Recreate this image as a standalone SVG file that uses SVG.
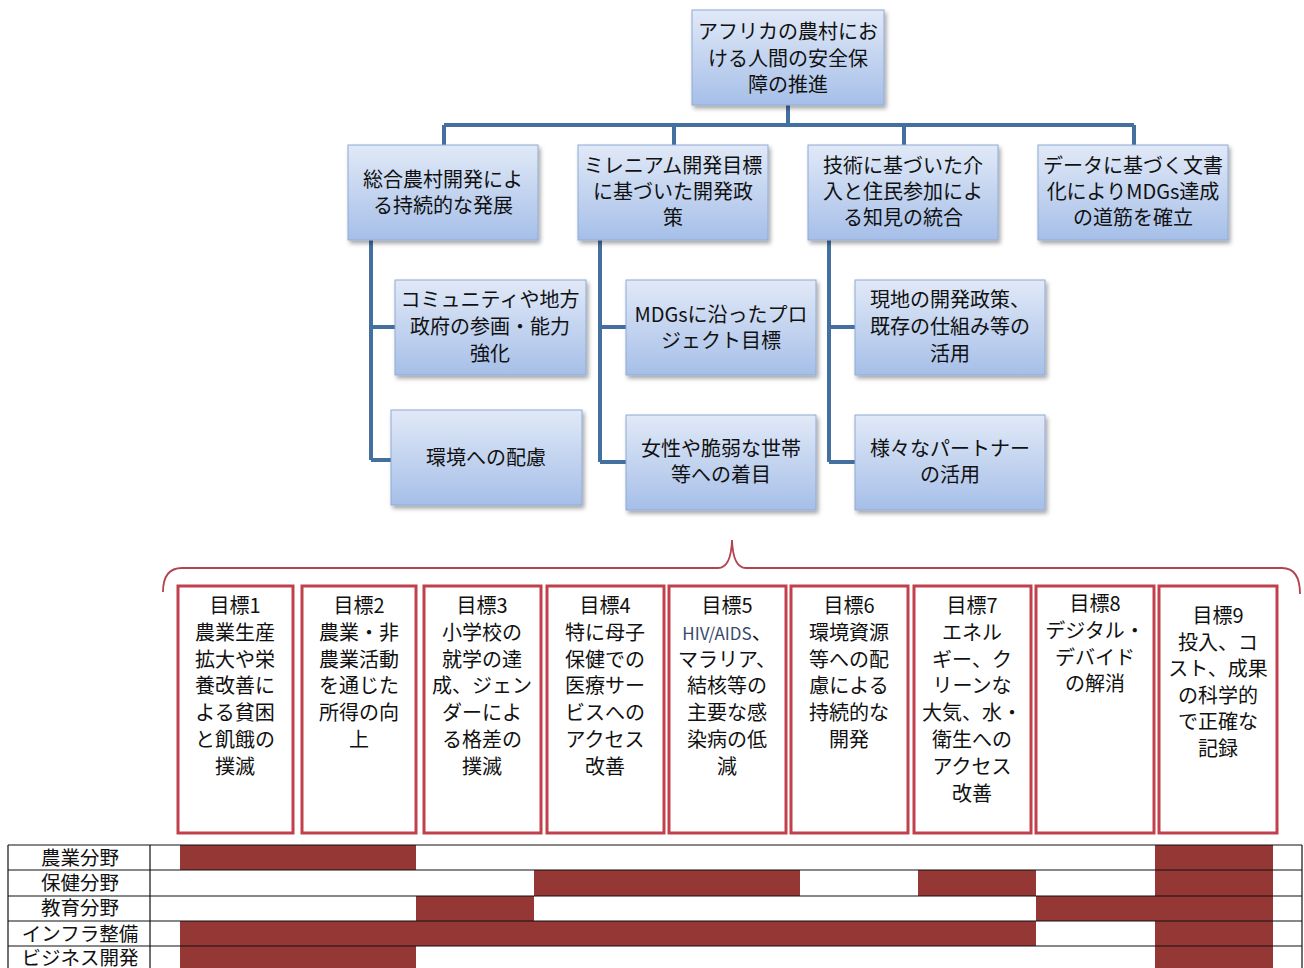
<svg xmlns="http://www.w3.org/2000/svg" width="1304" height="968" viewBox="0 0 1304 968">
<defs>
<linearGradient id="bg" x1="0" y1="0" x2="0" y2="1">
<stop offset="0" stop-color="#e1e9f7"/>
<stop offset="1" stop-color="#a6bfe8"/>
</linearGradient>
<filter id="sh" x="-10%" y="-10%" width="130%" height="130%">
<feDropShadow dx="2" dy="3" stdDeviation="2" flood-color="#000" flood-opacity="0.35"/>
</filter>
<style>
.n{fill:url(#bg);stroke:#8eaad6;stroke-width:1;filter:url(#sh)}
.t{font-family:"Noto Sans CJK JP","Noto Sans",sans-serif;font-size:20px;fill:#111;text-anchor:middle}
.g{fill:#fff;stroke:#c0404c;stroke-width:3}
.gt{font-family:"Noto Sans CJK JP","Noto Sans",sans-serif;font-size:20px;fill:#111;text-anchor:middle}
.c{stroke:#44709f;stroke-width:4;fill:none}
.bar{fill:#953735}
.rl{stroke:#111;stroke-width:1.2}
.lt{font-family:"Noto Sans CJK JP","Noto Sans",sans-serif;font-size:19.5px;fill:#111;text-anchor:middle}
</style>
</defs>
<rect width="1304" height="968" fill="#fff"/>

<g id="connectors">
<path class="c" d="M788,105 V125 M444,125 H1134 M444,125 V145 M674,125 V145 M904,125 V145 M1134,125 V145"/>
<path class="c" d="M371,240 V460 M371,327 H395 M371,460 H391"/>
<path class="c" d="M600,240 V462 M600,327 H626 M600,462 H626"/>
<path class="c" d="M829,240 V462 M829,327 H855 M829,462 H855"/>
</g>

<g id="root">
<rect class="n" x="692" y="10" width="192" height="95"/>
<text class="t"><tspan x="788" y="39">アフリカの農村にお</tspan><tspan x="788" dy="26.5">ける人間の安全保</tspan><tspan x="788" dy="26.5">障の推進</tspan></text>
</g>

<g id="b1">
<rect class="n" x="348" y="145" width="190" height="95"/>
<text class="t"><tspan x="443" y="187">総合農村開発によ</tspan><tspan x="443" dy="26">る持続的な発展</tspan></text>
</g>
<g id="b2">
<rect class="n" x="578" y="145" width="190" height="95"/>
<text class="t"><tspan x="673" y="173">ミレニアム開発目標</tspan><tspan x="673" dy="26">に基づいた開発政</tspan><tspan x="673" dy="26">策</tspan></text>
</g>
<g id="b3">
<rect class="n" x="808" y="145" width="190" height="95"/>
<text class="t"><tspan x="903" y="173">技術に基づいた介</tspan><tspan x="903" dy="26">入と住民参加によ</tspan><tspan x="903" dy="26">る知見の統合</tspan></text>
</g>
<g id="b4">
<rect class="n" x="1038" y="145" width="190" height="95"/>
<text class="t"><tspan x="1133" y="173">データに基づく文書</tspan><tspan x="1133" dy="26">化によりMDGs達成</tspan><tspan x="1133" dy="26">の道筋を確立</tspan></text>
</g>

<g id="c1a">
<rect class="n" x="395" y="280" width="191" height="95"/>
<text class="t"><tspan x="490" y="307">コミュニティや地方</tspan><tspan x="490" dy="27">政府の参画・能力</tspan><tspan x="490" dy="27">強化</tspan></text>
</g>
<g id="c1b">
<rect class="n" x="391" y="410" width="191" height="95"/>
<text class="t" x="486" y="465">環境への配慮</text>
</g>
<g id="c2a">
<rect class="n" x="626" y="280" width="190" height="95"/>
<text class="t"><tspan x="721" y="322">MDGsに沿ったプロ</tspan><tspan x="721" dy="26">ジェクト目標</tspan></text>
</g>
<g id="c2b">
<rect class="n" x="626" y="415" width="190" height="95"/>
<text class="t"><tspan x="721" y="456">女性や脆弱な世帯</tspan><tspan x="721" dy="26">等への着目</tspan></text>
</g>
<g id="c3a">
<rect class="n" x="855" y="280" width="190" height="95"/>
<text class="t"><tspan x="950" y="307">現地の開発政策、</tspan><tspan x="950" dy="27">既存の仕組み等の</tspan><tspan x="950" dy="27">活用</tspan></text>
</g>
<g id="c3b">
<rect class="n" x="855" y="415" width="190" height="95"/>
<text class="t"><tspan x="950" y="456">様々なパートナー</tspan><tspan x="950" dy="26">の活用</tspan></text>
</g>

<g id="brace">
<path d="M163,592 Q163,568 182,568 L718,568 Q731,568 732,540 Q733,568 746,568 L1282,568 Q1300,568 1300,594" fill="none" stroke="#b5434f" stroke-width="1.8"/>
</g>

<g id="goal1">
<rect class="g" x="178" y="586" width="115" height="247"/>
<text class="gt"><tspan x="235" y="613">目標1</tspan><tspan x="235" dy="26.8">農業生産</tspan><tspan x="235" dy="26.8">拡大や栄</tspan><tspan x="235" dy="26.8">養改善に</tspan><tspan x="235" dy="26.8">よる貧困</tspan><tspan x="235" dy="26.8">と飢餓の</tspan><tspan x="235" dy="26.8">撲滅</tspan></text>
</g>
<g id="goal2">
<rect class="g" x="302" y="586" width="114" height="247"/>
<text class="gt"><tspan x="359" y="613">目標2</tspan><tspan x="359" dy="26.8">農業・非</tspan><tspan x="359" dy="26.8">農業活動</tspan><tspan x="359" dy="26.8">を通じた</tspan><tspan x="359" dy="26.8">所得の向</tspan><tspan x="359" dy="26.8">上</tspan></text>
</g>
<g id="goal3">
<rect class="g" x="424" y="586" width="117" height="247"/>
<text class="gt"><tspan x="482" y="613">目標3</tspan><tspan x="482" dy="26.8">小学校の</tspan><tspan x="482" dy="26.8">就学の達</tspan><tspan x="482" dy="26.8">成、ジェン</tspan><tspan x="482" dy="26.8">ダーによ</tspan><tspan x="482" dy="26.8">る格差の</tspan><tspan x="482" dy="26.8">撲滅</tspan></text>
</g>
<g id="goal4">
<rect class="g" x="547" y="586" width="117" height="247"/>
<text class="gt"><tspan x="605" y="613">目標4</tspan><tspan x="605" dy="26.8">特に母子</tspan><tspan x="605" dy="26.8">保健での</tspan><tspan x="605" dy="26.8">医療サー</tspan><tspan x="605" dy="26.8">ビスへの</tspan><tspan x="605" dy="26.8">アクセス</tspan><tspan x="605" dy="26.8">改善</tspan></text>
</g>
<g id="goal5">
<rect class="g" x="669" y="586" width="117" height="247"/>
<text class="gt"><tspan x="727" y="613">目標5</tspan><tspan x="727" dy="26.8"><tspan fill="#3a4a6a" font-size="17">HIV/AIDS</tspan>、</tspan><tspan x="727" dy="26.8">マラリア、</tspan><tspan x="727" dy="26.8">結核等の</tspan><tspan x="727" dy="26.8">主要な感</tspan><tspan x="727" dy="26.8">染病の低</tspan><tspan x="727" dy="26.8">減</tspan></text>
</g>
<g id="goal6">
<rect class="g" x="791" y="586" width="117" height="247"/>
<text class="gt"><tspan x="849" y="613">目標6</tspan><tspan x="849" dy="26.8">環境資源</tspan><tspan x="849" dy="26.8">等への配</tspan><tspan x="849" dy="26.8">慮による</tspan><tspan x="849" dy="26.8">持続的な</tspan><tspan x="849" dy="26.8">開発</tspan></text>
</g>
<g id="goal7">
<rect class="g" x="914" y="586" width="117" height="247"/>
<text class="gt"><tspan x="972" y="613">目標7</tspan><tspan x="972" dy="26.8">エネル</tspan><tspan x="972" dy="26.8">ギー、ク</tspan><tspan x="972" dy="26.8">リーンな</tspan><tspan x="972" dy="26.8">大気、水・</tspan><tspan x="972" dy="26.8">衛生への</tspan><tspan x="972" dy="26.8">アクセス</tspan><tspan x="972" dy="26.8">改善</tspan></text>
</g>
<g id="goal8">
<rect class="g" x="1036" y="586" width="118" height="247"/>
<text class="gt"><tspan x="1095" y="611">目標8</tspan><tspan x="1095" dy="26.8">デジタル・</tspan><tspan x="1095" dy="26.8">デバイド</tspan><tspan x="1095" dy="26.8">の解消</tspan></text>
</g>
<g id="goal9">
<rect class="g" x="1159" y="586" width="118" height="247"/>
<text class="gt"><tspan x="1218" y="623">目標9</tspan><tspan x="1218" dy="26.6">投入、コ</tspan><tspan x="1218" dy="26.6">スト、成果</tspan><tspan x="1218" dy="26.6">の科学的</tspan><tspan x="1218" dy="26.6">で正確な</tspan><tspan x="1218" dy="26.6">記録</tspan></text>
</g>

<g id="table">
<rect class="bar" x="180" y="845" width="236" height="25"/>
<rect class="bar" x="1155" y="845" width="118" height="123"/>
<rect class="bar" x="534" y="870" width="266" height="26"/>
<rect class="bar" x="918" y="870" width="118" height="26"/>
<rect class="bar" x="416" y="896" width="118" height="25"/>
<rect class="bar" x="1036" y="896" width="237" height="25"/>
<rect class="bar" x="180" y="921" width="856" height="25"/>
<rect class="bar" x="180" y="946" width="236" height="22"/>
<path class="rl" fill="none" d="M8,845 H1302 M8,870 H1302 M8,896 H1302 M8,921 H1302 M8,946 H1302 M8,845 V968 M150,845 V968 M1302,845 V968"/>
<text class="lt"><tspan x="80" y="865">農業分野</tspan><tspan x="80" dy="25.2">保健分野</tspan><tspan x="80" dy="25.2">教育分野</tspan><tspan x="80" dy="25.2">インフラ整備</tspan><tspan x="80" dy="24.5">ビジネス開発</tspan></text>
</g>
</svg>
